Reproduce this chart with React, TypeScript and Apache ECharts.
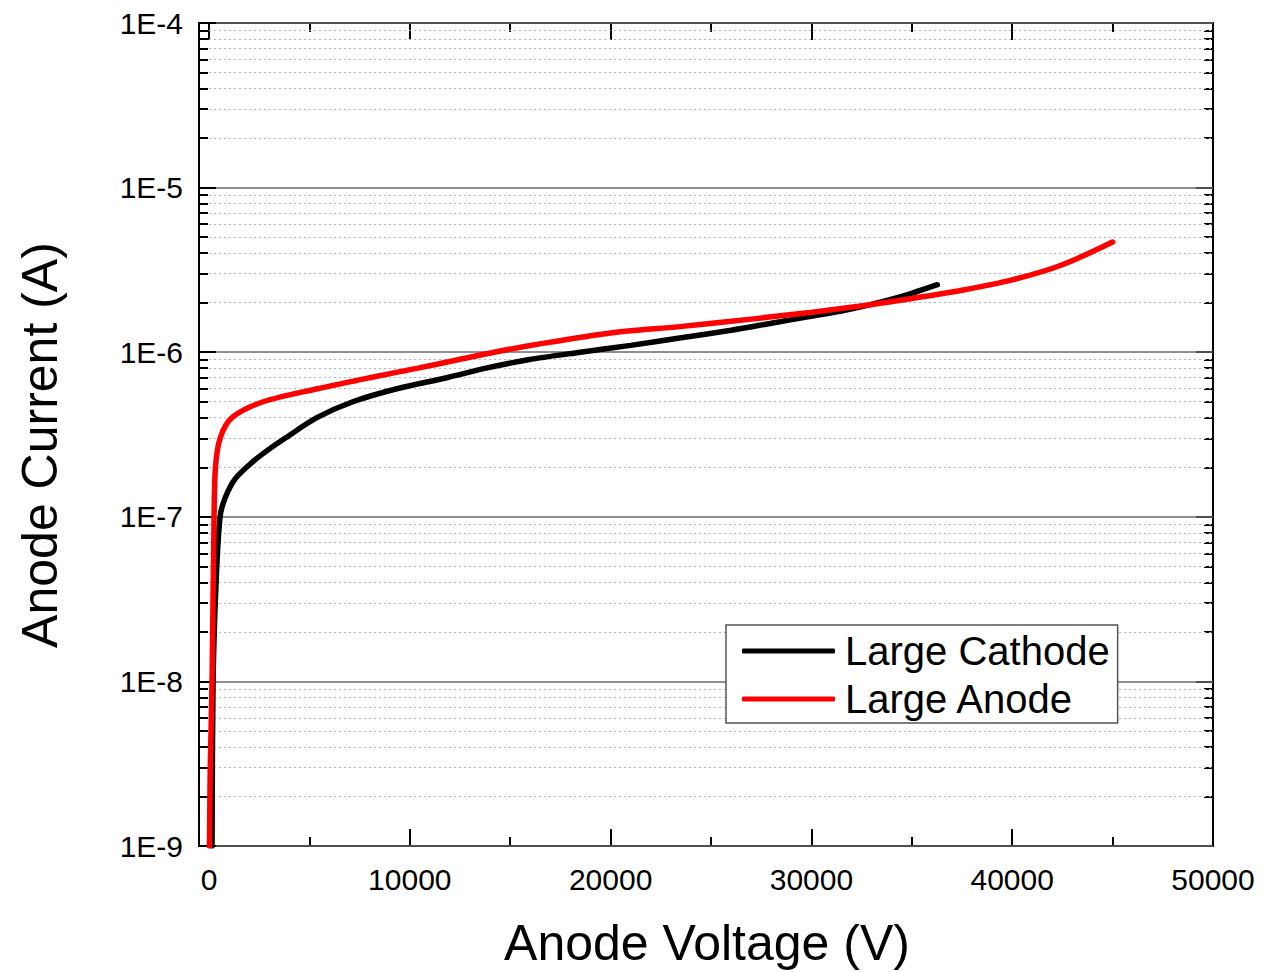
import React, { useEffect, useRef } from "react";
import * as echarts from "echarts";

// Data (Anode Voltage in V, Anode Current in A)
const cathodeVoltage = [150, 200, 350, 550, 800, 1300, 2200, 2940, 3780, 5370, 7160, 9350, 11840, 13800, 15900, 18500, 21000, 23430, 26000, 28000, 30050, 31500, 32740, 34000, 35000, 36270];
const cathodeCurrent = [1e-9, 1e-8, 4e-8, 1e-7, 1.3e-7, 1.7e-7, 2.17e-7, 2.55e-7, 3.0e-7, 4.0e-7, 5.0e-7, 6.0e-7, 7.0e-7, 8.0e-7, 9.0e-7, 1.0e-6, 1.1e-6, 1.22e-6, 1.36e-6, 1.5e-6, 1.66e-6, 1.78e-6, 1.92e-6, 2.1e-6, 2.28e-6, 2.57e-6];

const anodeVoltage = [20, 60, 150, 250, 320, 550, 1140, 2700, 5400, 8000, 10400, 12400, 14200, 16400, 20000, 23430, 26000, 28000, 30050, 32740, 35000, 37500, 40000, 42500, 45000];
const anodeCurrent = [1e-9, 3e-9, 1e-8, 1e-7, 2e-7, 3e-7, 4e-7, 5e-7, 6e-7, 7e-7, 8e-7, 9e-7, 1e-6, 1.12e-6, 1.31e-6, 1.43e-6, 1.54e-6, 1.64e-6, 1.75e-6, 1.93e-6, 2.12e-6, 2.38e-6, 2.75e-6, 3.4e-6, 4.67e-6];

const xMajorTicks = [0, 10000, 20000, 30000, 40000, 50000];
const xMinorTicks = [5000, 15000, 25000, 35000, 45000];
const yDecades = [-9, -8, -7, -6, -5, -4];
const yMinorMultipliers = [2, 3, 4, 5, 6, 7, 8, 9];

const seriesNames = ["Large Cathode", "Large Anode"];
const seriesColors = ["#000000", "#ff0000"];

const FONT = "'Liberation Sans', Arial, Helvetica, sans-serif";

export default function App() {
  const ref = useRef<HTMLDivElement>(null);
  useEffect(() => {
    if (!ref.current) return;
    const chart = echarts.init(ref.current, null, { renderer: "svg" });

    const yMinor: number[] = [];
    yDecades.slice(0, -1).forEach((d) => {
      yMinorMultipliers.forEach((m) => yMinor.push(Math.log10(m * Math.pow(10, d))));
    });

    const toPairs = (xs: number[], ys: number[]) => xs.map((x, i) => [x, Math.log10(ys[i])]);

    const xBase = {
      type: "value",
      min: -500,
      max: 50000,
      splitLine: { show: false },
    };
    const yBase = {
      type: "value",
      min: -9,
      max: -4,
    };
    const axisLineShown = { show: true, onZero: false, lineStyle: { color: "#000", width: 2 } };
    const axisLineHidden = { show: false, onZero: false };
    const majorTick = (vals: number[]) => ({ show: true, inside: true, length: 17, lineStyle: { color: "#000", width: 2 }, customValues: vals });
    const minorTick = (vals: number[]) => ({ show: true, inside: true, length: 9, lineStyle: { color: "#000", width: 2 }, customValues: vals });

    const option: any = {
      animation: false,
      backgroundColor: "#ffffff",
      textStyle: { fontFamily: FONT },
      grid: { left: 199, right: 57, top: 23, bottom: 126, containLabel: false },
      xAxis: [
        {
          ...xBase,
          position: "bottom",
          axisLine: axisLineShown,
          axisTick: majorTick(xMajorTicks),
          axisLabel: {
            show: true,
            customValues: xMajorTicks,
            fontSize: 30,
            color: "#000",
            fontFamily: FONT,
            margin: 18,
            formatter: (v: number) => String(Math.round(v)),
          },
        },
        {
          ...xBase,
          position: "bottom",
          axisLine: axisLineHidden,
          axisTick: minorTick(xMinorTicks),
          axisLabel: { show: false },
        },
        {
          ...xBase,
          position: "top",
          axisLine: axisLineShown,
          axisTick: majorTick(xMajorTicks),
          axisLabel: { show: false },
        },
        {
          ...xBase,
          position: "top",
          axisLine: axisLineHidden,
          axisTick: minorTick(xMinorTicks),
          axisLabel: { show: false },
        },
      ],
      yAxis: [
        {
          ...yBase,
          interval: 1,
          position: "left",
          axisLine: axisLineShown,
          axisTick: { show: true, inside: true, length: 17, lineStyle: { color: "#000", width: 2 } },
          axisLabel: {
            show: true,
            fontSize: 30,
            color: "#000",
            fontFamily: FONT,
            margin: 16,
            formatter: (v: number) => "1E" + Math.round(v),
          },
          splitLine: { show: true, lineStyle: { color: "#6a6a6a", width: 1.5, type: "solid" } },
          z: 3,
        },
        {
          ...yBase,
          position: "left",
          axisLine: axisLineHidden,
          axisTick: minorTick(yMinor),
          axisLabel: { show: false },
          splitLine: { show: true, lineStyle: { color: "#b4b4b4", width: 1.2, type: [2, 3] } },
          z: 2,
        },
        {
          ...yBase,
          interval: 1,
          position: "right",
          axisLine: axisLineShown,
          axisTick: { show: true, inside: true, length: 17, lineStyle: { color: "#000", width: 2 } },
          axisLabel: { show: false },
          splitLine: { show: false },
        },
        {
          ...yBase,
          position: "right",
          axisLine: axisLineHidden,
          axisTick: minorTick(yMinor),
          axisLabel: { show: false },
          splitLine: { show: false },
        },
      ],
      legend: {
        show: true,
        left: 726,
        top: 625,
        orient: "vertical",
        icon: "roundRect",
        itemWidth: 93,
        itemHeight: 5,
        itemGap: 4,
        padding: [4, 8, 2, 16],
        backgroundColor: "#ffffff",
        borderColor: "#555555",
        borderWidth: 1.5,
        borderRadius: 0,
        textStyle: { fontSize: 40, color: "#000", fontFamily: FONT, lineHeight: 44, padding: [0, 0, 0, 5] },
        data: seriesNames,
        z: 10,
      },
      graphic: [
        {
          type: "text",
          x: 707,
          y: 943,
          style: { text: "Anode Voltage (V)", font: `50px ${FONT}`, fill: "#000", align: "center", verticalAlign: "middle" },
        },
        {
          type: "text",
          x: 40,
          y: 445,
          rotation: Math.PI / 2,
          style: { text: "Anode Current (A)", font: `50px ${FONT}`, fill: "#000", align: "center", verticalAlign: "middle" },
        },
      ],
      series: [
        {
          name: seriesNames[0],
          type: "line",
          xAxisIndex: 0,
          yAxisIndex: 0,
          data: toPairs(cathodeVoltage, cathodeCurrent),
          showSymbol: false,
          smooth: 0.3,
          lineStyle: { color: seriesColors[0], width: 5.5, cap: "round" },
          itemStyle: { color: seriesColors[0] },
          z: 4,
        },
        {
          name: seriesNames[1],
          type: "line",
          xAxisIndex: 0,
          yAxisIndex: 0,
          data: toPairs(anodeVoltage, anodeCurrent),
          showSymbol: false,
          smooth: 0.3,
          lineStyle: { color: seriesColors[1], width: 5.5, cap: "round" },
          itemStyle: { color: seriesColors[1] },
          z: 5,
        },
      ],
    };
    chart.setOption(option);
    return () => chart.dispose();
  }, []);
  return <div ref={ref} style={{ position: "absolute", left: 0, top: 0, width: 1270, height: 972 }} />;
}
